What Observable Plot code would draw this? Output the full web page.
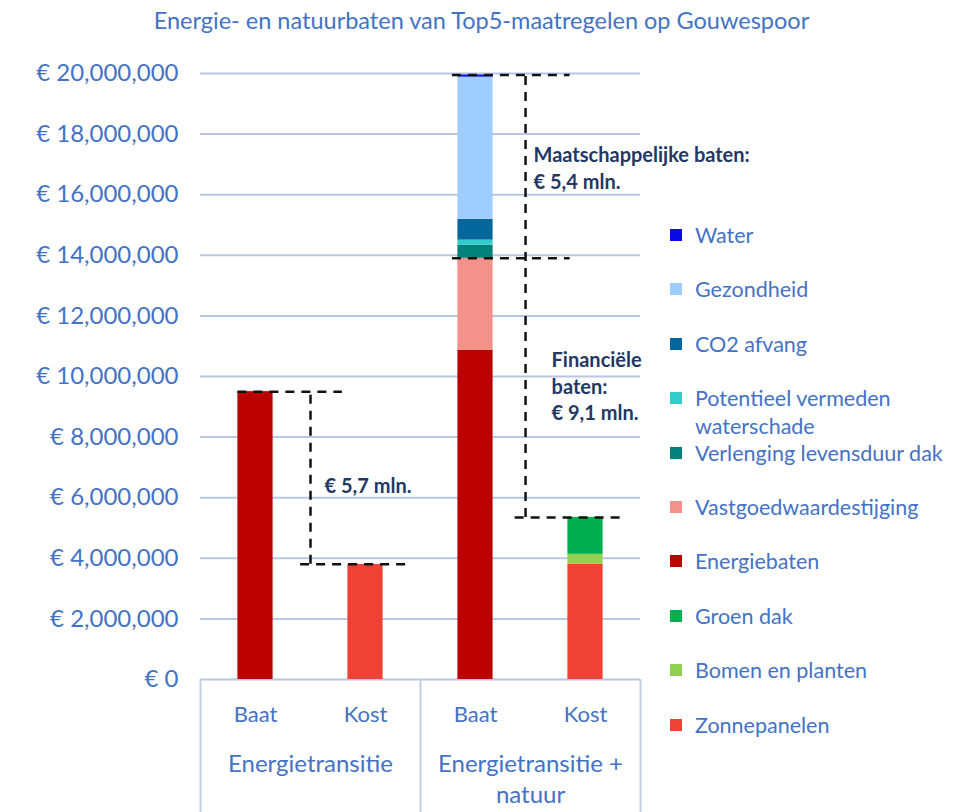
<!DOCTYPE html>
<html><head><meta charset="utf-8">
<script src="https://cdn.jsdelivr.net/npm/d3@7"></script>
<script src="https://cdn.jsdelivr.net/npm/@observablehq/plot@0.6"></script>
<style>
body{margin:0;background:#fff;font-family:Lato,"Open Sans",sans-serif;}
#wrap{position:relative;width:963px;height:812px;overflow:hidden;background:#fff;}
#title{height:40px;line-height:40px;text-align:center;color:#4472C4;font-size:23.5px;white-space:nowrap;}
.sq{position:absolute;width:12px;height:12px;}
.lt{position:absolute;left:695px;color:#4472C4;font-size:21.5px;line-height:28px;white-space:nowrap;}
svg{overflow:visible;}
</style></head>
<body><div id="wrap"><div id="title"></div><div id="chart"></div></div>
<script>
const titleText = "Energie- en natuurbaten van Top5-maatregelen op Gouwespoor";
const groups = ["Energietransitie", "Energietransitie + natuur"];
const barTypes = ["Baat", "Kost", "Baat", "Kost"];
const barGroup = [0, 0, 1, 1];
// stacking order bottom -> top (legend shows it reversed)
const series = ["Zonnepanelen", "Bomen en planten", "Groen dak", "Energiebaten", "Vastgoedwaardestijging",
  "Verlenging levensduur dak", "Potentieel vermeden waterschade", "CO2 afvang", "Gezondheid", "Water"];
const seriesColors = ["#ee4236", "#92d050", "#00b050", "#bb0000", "#f4918a",
  "#00827a", "#33cccc", "#05679c", "#9fcdff", "#0a0ae6"];
const energietransitieBaat = [0, 0, 0, 9500000, 0, 0, 0, 0, 0, 0];
const energietransitieKost = [3800000, 0, 0, 0, 0, 0, 0, 0, 0, 0];
const natuurBaat = [0, 0, 0, 10860000, 3040000, 430000, 170000, 690000, 4690000, 70000];
const natuurKost = [3800000, 330000, 1220000, 0, 0, 0, 0, 0, 0, 0];
const barValues = [energietransitieBaat, energietransitieKost, natuurBaat, natuurKost];
const yTicks = [0, 2000000, 4000000, 6000000, 8000000, 10000000, 12000000, 14000000, 16000000, 18000000, 20000000];
const annotationTexts = ["€ 5,7 mln.", "Maatschappelijke baten:\n€ 5,4 mln.", "Financiële\nbaten:\n€ 9,1 mln."];

document.getElementById("title").textContent = titleText;

const rows = [];
barValues.forEach((vals, i) => {
  let acc = 0;
  vals.forEach((v, s) => {
    if (v > 0) rows.push({bar: i, series: series[s], y1: acc, y2: acc + v});
    acc += v;
  });
});
const totals = barValues.map(v => d3.sum(v));
const financial = natuurBaat[3] + natuurBaat[4];

const bars = barTypes.map((t, i) => ({bar: i, type: t}));
const groupRows = groups.map((g, i) => ({pos: 2 * i + 1, label: g}));

const hLines = [
  {y: totals[0], x1: 0.34, x2: 1.29},
  {y: totals[1], x1: 0.91, x2: 1.88},
  {y: totals[2], x1: 2.29, x2: 3.36},
  {y: financial, x1: 2.29, x2: 3.36},
  {y: totals[3], x1: 2.86, x2: 3.84}
];
const vLines = [
  {x: 1.0, y1: totals[1], y2: totals[0]},
  {x: 2.955, y1: totals[3], y2: totals[2]}
];
const notes = [
  {x: 1.0, y: (totals[0] + totals[1]) / 2, text: annotationTexts[0], dx: 14, dy: 6},
  {x: 2.955, y: (financial + totals[2]) / 2, text: annotationTexts[1], dx: 8, dy: 0},
  {x: 2.955, y: (totals[3] + financial) / 2, text: annotationTexts[2], dx: 26, dy: -3}
];

const dash = {stroke: "#111", strokeWidth: 2.5, strokeDasharray: "9,7"};
const noteStyle = {x: "x", y: "y", text: "text", textAnchor: "start", fontWeight: "bold", fontSize: 20, lineHeight: 1.35, fill: "#1f3864"};

const plot = Plot.plot({
  width: 963, height: 772,
  marginTop: 33, marginBottom: 133, marginLeft: 200, marginRight: 323,
  style: {fontFamily: "Lato, 'Open Sans', sans-serif", color: "#4472C4", background: "white", overflow: "visible"},
  x: {type: "linear", domain: [0, 4], axis: null},
  y: {domain: [0, 20000000], axis: null},
  color: {domain: series, range: seriesColors},
  marks: [
    Plot.ruleY(yTicks, {stroke: "#b7c7e3", strokeWidth: 2}),
    Plot.ruleX([0, 2, 4], {y1: 0, y2: -4700000, stroke: "#c3cde0", strokeWidth: 2}),
    Plot.rectY(rows, {x1: d => d.bar + 0.5 - 0.16, x2: d => d.bar + 0.5 + 0.16, y1: "y1", y2: "y2", fill: "series"}),
    Plot.axisY(yTicks, {tickFormat: d => "€ " + d3.format(",")(d), tickSize: 0, tickPadding: 22, fontSize: 24, fill: "#4472C4"}),
    Plot.text(bars, {x: d => d.bar + 0.5, y: 0, text: "type", dy: 35, fontSize: 22, fill: "#4472C4"}),
    Plot.text(groupRows, {x: "pos", y: 0, text: "label", dy: 70, lineAnchor: "top", lineWidth: 9.5, lineHeight: 1.3, fontSize: 24, fill: "#4472C4"}),
    Plot.ruleY(hLines, {y: "y", x1: "x1", x2: "x2", ...dash}),
    Plot.ruleX(vLines, {x: "x", y1: "y1", y2: "y2", ...dash}),
    ...notes.map(n => Plot.text([n], {...noteStyle, dx: n.dx, dy: n.dy}))
  ]
});
document.getElementById("chart").appendChild(plot);

// legend (top to bottom = reverse stacking order)
const wrap = document.getElementById("wrap");
const legendBreaks = {"Potentieel vermeden waterschade": "Potentieel vermeden<br>waterschade"};
series.slice().reverse().forEach((s, i) => {
  const c = seriesColors[series.indexOf(s)];
  const cy = 235 + 54.4 * i;
  const sq = document.createElement("div");
  sq.className = "sq";
  sq.style.left = "670px"; sq.style.top = (cy - 6) + "px"; sq.style.background = c;
  wrap.appendChild(sq);
  const t = document.createElement("div");
  t.className = "lt";
  t.style.top = (cy - 14) + "px";
  t.innerHTML = legendBreaks[s] || s;
  wrap.appendChild(t);
});
</script></body></html>
